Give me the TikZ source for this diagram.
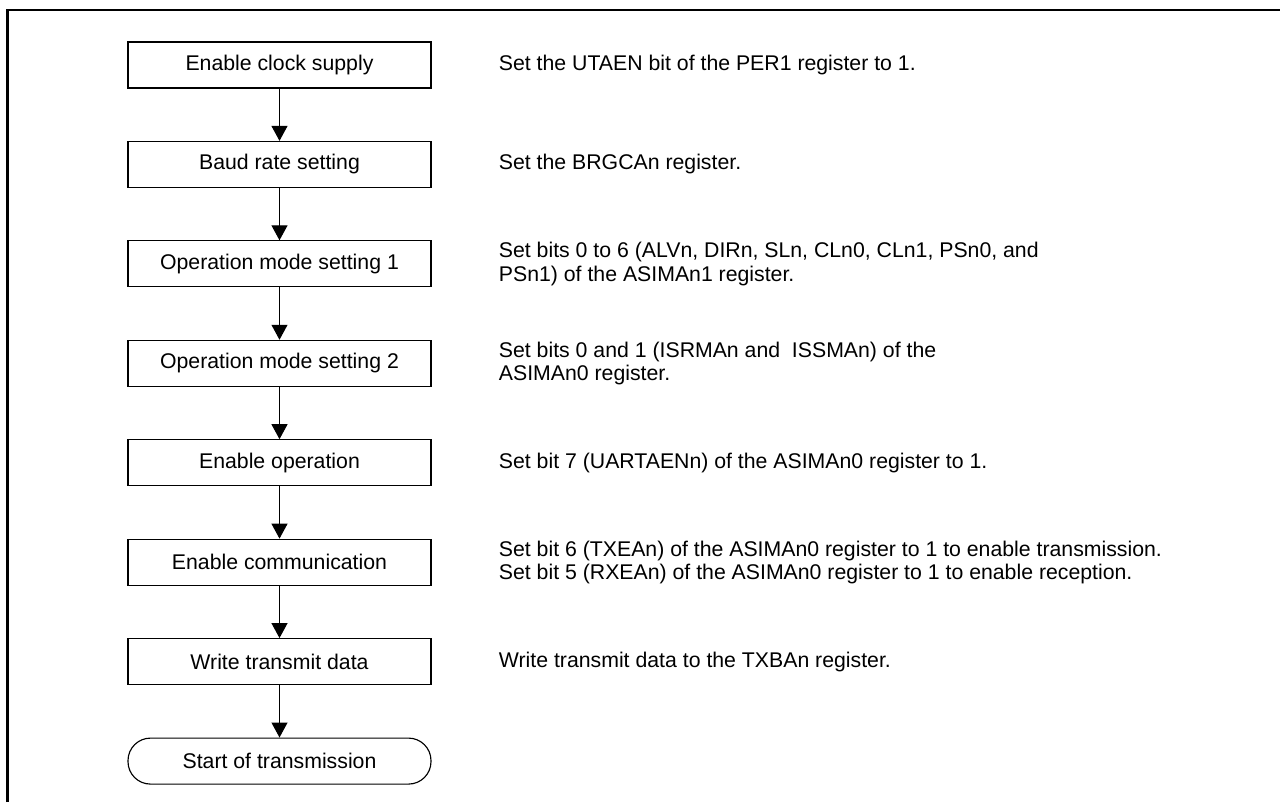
\documentclass[tikz,border=0pt]{standalone}
\usepackage{fontspec}
\setmainfont{Liberation Sans}
\usetikzlibrary{arrows.meta,positioning}

\begin{document}
\begin{tikzpicture}[>={Triangle[width=0.32cm,length=0.3cm]},
  every node/.style={font=\fontsize{12.1}{13.3}\selectfont},
  stepbox/.style={draw,line width=.65pt,minimum width=6.06cm,minimum height=0.92cm,inner sep=0pt},
  endbox/.style={stepbox,rounded corners=0.45cm},
  note/.style={anchor=west,align=left,inner sep=0pt},
  node distance=1.046cm]
  \useasboundingbox (0,0) rectangle (25.6,16.04);
  % frame
  \draw[line width=1.7pt] (0.15,0) -- (0.15,15.84) -- (25.6,15.84);

  % steps
  \node[stepbox] (clk) at (5.59,14.74) {Enable clock supply};
  \node[stepbox,below=of clk] (baud) {Baud rate setting};
  \node[stepbox,below=of baud] (mode1) {Operation mode setting 1};
  \node[stepbox,below=of mode1] (mode2) {Operation mode setting 2};
  \node[stepbox,below=of mode2] (op) {Enable operation};
  \node[stepbox,below=of op] (comm) {Enable communication};
  \node[stepbox,below=of comm] (txd) {Write transmit data};
  \node[endbox,below=of txd] (start) {Start of transmission};

  \foreach \a/\b in {clk/baud,baud/mode1,mode1/mode2,mode2/op,op/comm,comm/txd,txd/start}
    \draw[->,line width=.65pt] (\a) -- (\b);

  % register notes
  \node[note,right=1.34cm of clk] (clknote) {Set the UTAEN bit of the PER1 register to 1.};
  \node[note,right=1.34cm of baud] (baudnote) {Set the BRGCAn register.};
  \node[note,right=1.34cm of mode1] (mode1note) {Set bits 0 to 6 (ALVn, DIRn, SLn, CLn0, CLn1, PSn0, and\\PSn1) of the ASIMAn1 register.};
  \node[note,right=1.34cm of mode2] (mode2note) {Set bits 0 and 1 (ISRMAn and\ \ ISSMAn) of the\\ASIMAn0 register.};
  \node[note,right=1.34cm of op] (opnote) {Set bit 7 (UARTAENn) of the ASIMAn0 register to 1.};
  \node[note,right=1.34cm of comm] (commnote) {Set bit 6 (TXEAn) of the ASIMAn0 register to 1 to enable transmission.\\Set bit 5 (RXEAn) of the ASIMAn0 register to 1 to enable reception.};
  \node[note,right=1.34cm of txd] (txdnote) {Write transmit data to the TXBAn register.};
\end{tikzpicture}
\end{document}
